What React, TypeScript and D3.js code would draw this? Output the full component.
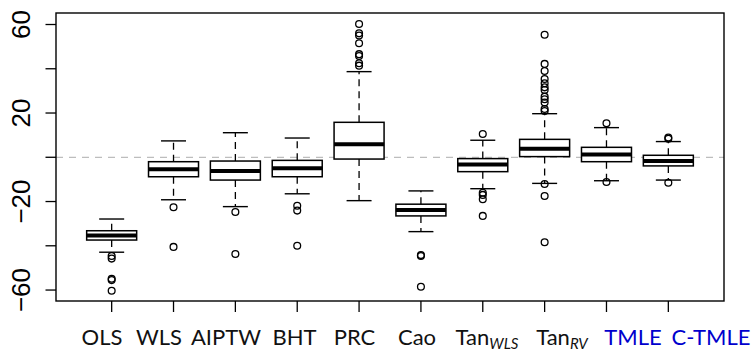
import React, { useEffect, useRef } from "react";
import * as d3 from "d3";

// estimator names (subscript part kept separate)
const labels = ["OLS", "WLS", "AIPTW", "BHT", "PRC", "Cao", "Tan", "Tan", "TMLE", "C-TMLE"];
const subs = ["", "", "", "", "", "", "WLS", "RV", "", ""];
const highlighted = [false, false, false, false, false, false, false, false, true, true];

// box statistics
const whiskerLo = [-42.9, -19.2, -22.3, -16.5, -19.6, -33.6, -14.2, -11.8, -10.6, -10.3];
const q1 = [-37.4, -8.8, -10.3, -8.8, -0.8, -26.5, -6.5, 0.3, -2.0, -3.9];
const median = [-35.3, -5.4, -6.2, -5.0, 5.9, -23.8, -3.3, 3.9, 1.2, -1.7];
const q3 = [-33.2, -2.0, -1.7, -1.4, 15.8, -21.2, -0.6, 8.1, 4.5, 0.9];
const whiskerHi = [-27.9, 7.4, 11.1, 8.7, 38.7, -15.2, 7.7, 19.7, 13.4, 7.1];
const outliers: number[][] = [
  [-44.6, -45.8, -54.9, -55.5, -60.3],
  [-22.6, -40.5],
  [-24.7, -43.7],
  [-21.9, -24.1, -40.0],
  [60.2, 56.0, 55.0, 51.5, 46.6, 45.8, 42.5, 41.4],
  [-44.2, -44.6, -58.5],
  [10.5, -16.0, -17.0, -19.0, -26.5],
  [55.4, 42.2, 39.0, 35.4, 33.4, 31.6, 30.4, 27.4, 26.2, 24.7, 21.8, 20.9, -12.1, -17.5, -38.4],
  [15.4, -11.2],
  [8.9, 8.4, -11.5],
];

const yTicks = [-60, -40, -20, 0, 20, 40, 60];
const yTickLabels = [-60, -20, 20, 60];

// label centres (the labels were typeset as one line, not under the ticks)
const labelCenters = [102, 159, 226, 294.5, 354.5, 417, 487, 562, 633, 711];

const App: React.FC = () => {
  const svgRef = useRef<SVGSVGElement | null>(null);

  useEffect(() => {
    document.body.style.margin = "0";
    if (!svgRef.current) return;
    const svg = d3.select(svgRef.current);
    svg.selectAll("*").remove();

    const left = 56, right = 724, top = 13, bottom = 301;
    const x = d3.scaleLinear().domain([0.1, 10.9]).range([left, right]);
    const y = d3.scaleLinear().domain([-64.95, 65.2]).range([bottom, top]);
    const boxHalf = 25;

    // reference line at zero
    svg
      .append("line")
      .attr("x1", left)
      .attr("x2", right)
      .attr("y1", y(0))
      .attr("y2", y(0))
      .attr("stroke", "#bdbdbd")
      .attr("stroke-width", 1.3)
      .attr("stroke-dasharray", "7,6");

    const g = svg
      .selectAll(".box")
      .data(labels.map((_, i) => i))
      .enter()
      .append("g")
      .attr("class", "box");

    // dashed whiskers
    g.append("line")
      .attr("x1", (i) => x(i + 1))
      .attr("x2", (i) => x(i + 1))
      .attr("y1", (i) => y(q3[i]))
      .attr("y2", (i) => y(whiskerHi[i]))
      .attr("stroke", "#000")
      .attr("stroke-width", 1.3)
      .attr("stroke-dasharray", "7,5");
    g.append("line")
      .attr("x1", (i) => x(i + 1))
      .attr("x2", (i) => x(i + 1))
      .attr("y1", (i) => y(q1[i]))
      .attr("y2", (i) => y(whiskerLo[i]))
      .attr("stroke", "#000")
      .attr("stroke-width", 1.3)
      .attr("stroke-dasharray", "7,5");

    // whisker caps
    [whiskerHi, whiskerLo].forEach((w) => {
      g.append("line")
        .attr("x1", (i) => x(i + 1) - boxHalf / 2)
        .attr("x2", (i) => x(i + 1) + boxHalf / 2)
        .attr("y1", (i) => y(w[i]))
        .attr("y2", (i) => y(w[i]))
        .attr("stroke", "#000")
        .attr("stroke-width", 1.4);
    });

    g.append("rect")
      .attr("x", (i) => x(i + 1) - boxHalf)
      .attr("width", boxHalf * 2)
      .attr("y", (i) => y(q3[i]))
      .attr("height", (i) => y(q1[i]) - y(q3[i]))
      .attr("fill", "#fff")
      .attr("stroke", "#000")
      .attr("stroke-width", 1.5);

    g.append("line")
      .attr("x1", (i) => x(i + 1) - boxHalf)
      .attr("x2", (i) => x(i + 1) + boxHalf)
      .attr("y1", (i) => y(median[i]))
      .attr("y2", (i) => y(median[i]))
      .attr("stroke", "#000")
      .attr("stroke-width", 4);

    g.selectAll("circle")
      .data((i) => outliers[i].map((v) => ({ i, v })))
      .enter()
      .append("circle")
      .attr("cx", (d) => x(d.i + 1))
      .attr("cy", (d) => y(d.v))
      .attr("r", 3.4)
      .attr("fill", "none")
      .attr("stroke", "#000")
      .attr("stroke-width", 1.3);

    // frame
    svg
      .append("rect")
      .attr("x", left)
      .attr("y", top)
      .attr("width", right - left)
      .attr("height", bottom - top)
      .attr("fill", "none")
      .attr("stroke", "#000")
      .attr("stroke-width", 1.4);

    // y axis
    const yAxis = svg.append("g");
    yAxis
      .selectAll("line")
      .data(yTicks)
      .enter()
      .append("line")
      .attr("x1", left - 10.5)
      .attr("x2", left)
      .attr("y1", (d) => y(d))
      .attr("y2", (d) => y(d))
      .attr("stroke", "#000")
      .attr("stroke-width", 1.3);
    yAxis
      .selectAll("text")
      .data(yTickLabels)
      .enter()
      .append("text")
      .attr("transform", (d) => `translate(30,${y(d)}) rotate(-90)`)
      .attr("text-anchor", "middle")
      .attr("font-family", "Liberation Sans, Arial, sans-serif")
      .attr("font-size", 26)
      .text((d) => (d < 0 ? "\u2212" + Math.abs(d) : String(d)));

    // x axis ticks
    svg
      .append("g")
      .selectAll("line")
      .data(labels.map((_, i) => i + 1))
      .enter()
      .append("line")
      .attr("x1", (d) => x(d))
      .attr("x2", (d) => x(d))
      .attr("y1", bottom)
      .attr("y2", bottom + 11)
      .attr("stroke", "#000")
      .attr("stroke-width", 1.3);

    const xl = svg
      .append("g")
      .selectAll("text")
      .data(labels.map((_, i) => i))
      .enter()
      .append("text")
      .attr("x", (i) => labelCenters[i])
      .attr("y", 345)
      .attr("text-anchor", "middle")
      .attr("font-family", "Lato, sans-serif")
      .attr("font-size", 22)
      .attr("fill", (i) => (highlighted[i] ? "#0000cd" : "#111"));
    xl.append("tspan").text((i) => labels[i]);
    xl.filter((i) => subs[i] !== "")
      .append("tspan")
      .attr("dy", 3.5)
      .attr("font-size", 15)
      .attr("font-style", "italic")
      .text((i) => subs[i]);
  }, []);

  return <svg ref={svgRef} width={754} height={353} style={{ display: "block" }}></svg>;
};

export default App;
